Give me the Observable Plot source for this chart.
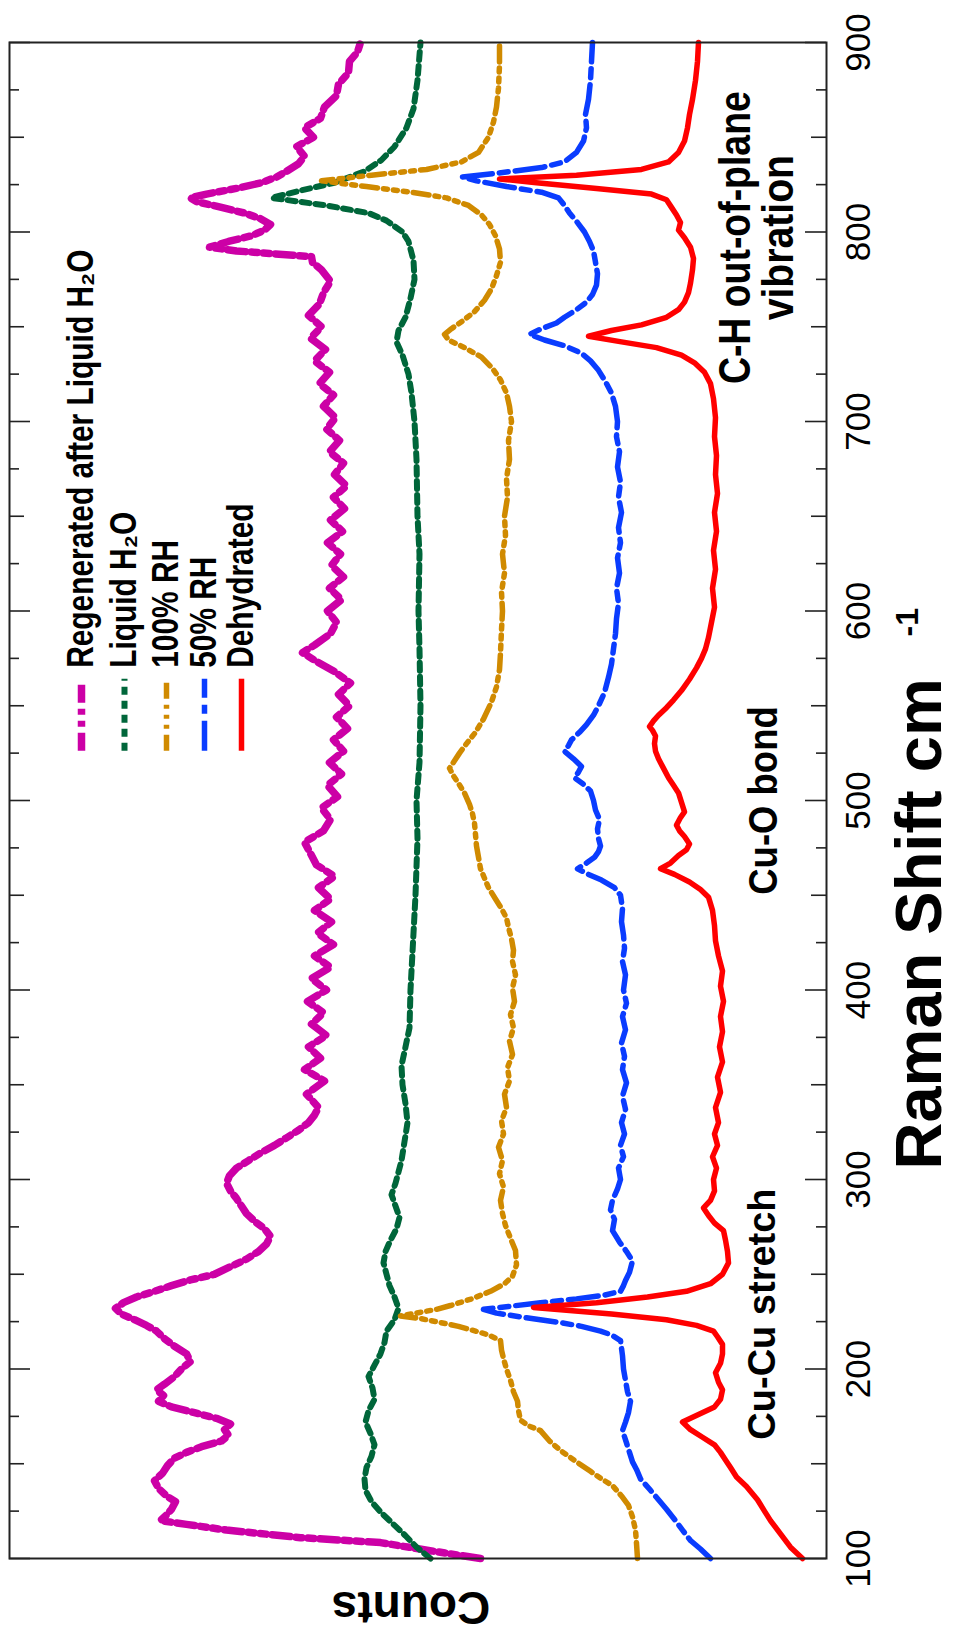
<!DOCTYPE html>
<html><head><meta charset="utf-8">
<script src="https://cdn.jsdelivr.net/npm/d3@7"></script>
<script src="https://cdn.jsdelivr.net/npm/@observablehq/plot@0.6"></script>
<style>body{margin:0;background:#fff}#chart{position:absolute;left:0;top:0}</style>
</head><body><div id="chart"></div>
<script>
// ---------- data (Raman shift in cm-1, counts in arbitrary units, stacked offsets) ----------
const seriesNames = ["Regenerated after Liquid H\u2082O", "Liquid H\u2082O", "100% RH", "50% RH", "Dehydrated"];
const seriesColors = ["#cc00a6", "#00663a", "#d08a00", "#0a3cff", "#ff0000"];

const ramanRegen = [100,104,108.4,111,115,118,120,123,126,130,133,137,141,145,149,153,156,159,162,165,168,171,174,177,180,183,186,189,192,196,200,204,208,212,216,220,223,226,229,232,235,238,241,244,247,250,254,258,262,266,270,274,278,282,286,290,294,298,302,306,310,314,318,322,326,330,334,338,
345,352,358,364,370,376,382,388,394,400,406,412,418,424,430,436,442,448,454,460,466,472,478,484,490,496,502,508,514,520,526,532,538,544,550,556,562,568,574,578,582,588,594,600,606,612,618,624,630,636,642,648,654,660,666,672,678,684,690,696,702,708,714,720,726,732,738,744,750,756,762,768,774,780,784,
787,790,792,795,798,801,804,807,810,813,816,818,820,823,826,829,832,836,840,845,850,855,860,866,872,878,884,890,895,900];
const countsRegen = [346,395,446,526,600,640,666,660,655,651,660,668,672,664,659,652,640,625,605,598,602,596,610,632,655,668,663,670,662,652,645,636,640,652,662,670,680,692,705,711,703,690,672,655,636,612,596,580,568,560,556,562,572,580,585,590,596,600,597,590,578,566,552,540,528,518,512,508,
520,502,522,506,518,500,515,503,519,500,515,496,512,493,509,495,512,496,508,492,510,516,522,503,496,505,489,499,485,497,483,493,479,490,477,488,476,492,512,524,512,496,490,499,485,497,483,495,486,499,484,496,482,493,480,492,483,497,487,500,491,503,493,507,497,512,501,516,505,518,507,503,496,505,514,
515,590,617,598,575,562,556,566,582,605,630,636,620,590,565,550,540,528,522,530,513,522,506,502,490,488,478,477,469,466];

const ramanLiquid = [100,106,112,118,124,130,136,142,148,154,160,166,172,178,184,190,196,202,208,214,220,226,232,238,244,250,256,262,268,274,280,286,292,298,304,310,320,330,340,350,360,370,380,400,420,450,480,500,520,550,580,600,630,650,680,700,715,725,735,742,748,755,765,775,785,795,800,806,810,814,818,822,826,832,838,845,855,865,880,900];
const countsLiquid = [396,410,421,433,445,455,461,462,460,455,452,456,461,458,452,454,458,452,446,442,440,432,428,432,437,440,443,441,436,430,427,431,435,431,428,425,422,419,421,424,425,421,417,416,414,411,409,410,407,406,407,408,407,409,410,412,415,418,424,430,428,421,416,412,413,418,424,440,458,500,555,525,492,462,445,432,420,413,409,406];

const ramanRH100 = [100,108,115,122,128,133,138.5,142,146,151,157,162,167.5,170,173,178,183,188,194,200,205.5,210,215,218,220,222.5,224.5,226.5,228,230,231.5,233.5,237,241,245,249,255,262.5,269,275.7,282,289,296,303,310,317,324,331,338,345,352,359,366,373,380,387,394,401,408,415,421,427,433,438,443,448,454,459,464,470,476,482,488,493,498,504,509,513,517,521,525,530,536,543,552,560,569,578,590,600,610,620,630,640,650,660,670,680,690,700,708,715,722,728,734,739,743,746,749,753,758,764,770,777,784,791,798,804,809,814,818,821,824,827,830,833,837,842,850,858,866,876,888,900];
const countsRH100 = [189,190,191,194,198,205,214,225,236,250,266,277,286,298,306,308,309,313,316,320,323,325,326,338,351,368,386,405,426,405,390,376,355,336,322,314,310,311,316,321,324,326,323,327,324,328,323,325,320,322,317,319,314,317,313,316,312,314,311,314,313,315,318,320,325,331,338,342,346,348,350,351,352,354,357,362,368,373,377,372,367,360,351,343,335,330,327,326,325,324,325,322,324,321,322,319,320,317,318,315,317,320,326,334,345,362,378,382,375,364,352,342,335,330,326,327,331,337,345,358,380,415,460,505,455,400,365,348,338,333,330,328,327,327];

const ramanRH50 = [100,105,109.5,115,120,126,131,136,142,147,151,156,161,167.5,172,177,183,188,194,200,207,211,215,218,220,222.5,224.5,227,229.5,231.5,233,235,237,239,241,244,246.7,251,257,262,267,273,279,284,289,295,300,306,312,318,324,330,337,344,351,358,365,372,379,386,393,400,408,415,422,429,436,443,450,454,458,461,464,467,470,473,476,480,485,490,495,500,505,509,512,515,518,522,526,529,532,536,540,545,550,557,565,572,580,588,596,604,612,620,628,636,644,652,660,668,676,684,692,700,708,715,721,727,732,736,740,743,746,749,752,755,759,763,767,772,778,784,790,795,800,805,810,814,818,821,824,827,829,831,834,837,842,848,855,862,870,880,890,900];
const countsRH50 = [116,126,136,144,151,160,168,176,186,190,194,197,200,204,201,198,196,199,201,203,204,205,206,215,226,245,266,300,330,343,318,286,250,222,206,203,201,197,194,200,207,214,212,216,214,209,206,208,203,206,202,205,201,204,200,204,202,205,201,204,200,203,201,204,202,203,205,204,206,212,225,238,249,240,232,228,226,228,229,227,231,233,236,244,252,248,245,253,262,258,255,247,240,233,228,222,218,215,213,211,210,208,210,207,209,206,208,205,208,206,209,207,210,209,211,215,221,228,236,245,262,282,297,285,270,262,250,240,234,230,229,231,233,237,242,249,257,262,268,285,320,350,364,330,285,262,250,243,240,241,238,236,235,234];

const ramanDehyd = [100,106,113,120,125,131,138,143,148,152,156,160,164,168,172,176,180,184,189,193,198,203,208,213,217,220,223,226,229,232.5,235,238,241,245,250,256,262,268,273,277,281,285,289,294,300,306,312,318,324,330,338,346,354,362,370,378,386,394,402,410,418,426,434,442,449,453,457,461,464,467,471,474,477,481,484,487,491,494,499,504,508,512,518,522,526,530,534,537,539,542,545,549,553,558,564,570,575,580,586,594,602,612,622,632,642,652,662,672,682,692,702,712,720,726,731,735,739,742,745,748,751,755,759,763,768,773,780,786,792,797,801,805,809,813,817,820,823,826,828,830,833,837,842,848,855,862,870,880,890,900];
const countsDehyd = [24,36,46,56,62,69,80,90,96,101,106,112,124,136,144,128,112,106,104,108,111,106,104,104,109,113,130,160,215,293,230,179,140,116,104,98,99,101,103,112,118,123,116,112,113,110,114,109,112,108,111,106,109,104,107,104,106,103,106,104,108,111,112,114,118,126,137,152,166,156,148,140,137,142,147,150,146,142,145,148,153,158,164,168,171,172,171,174,177,173,168,160,153,145,137,130,125,121,118,115,112,114,111,113,110,112,109,111,110,112,111,113,116,122,132,145,170,205,238,215,185,160,148,142,138,136,134,133,136,142,148,146,150,155,160,175,230,290,327,250,185,158,148,142,139,137,134,131,129,128];

const majorTicks = [100,200,300,400,500,600,700,800,900];
const mediumTicks = [150,250,350,450,550,650,750,850];
const minorTicks = [125,175,225,275,325,375,425,475,525,575,625,675,725,775,825,875];

const annotationLines = ["C-H out-of-plane", "vibration", "Cu-O bond", "Cu-Cu stretch"];

// ---------- build ----------
const ramanSets = [ramanRegen, ramanLiquid, ramanRH100, ramanRH50, ramanDehyd];
const countSets = [countsRegen, countsLiquid, countsRH100, countsRH50, countsDehyd];
const dashes = ["18,6,6,6,6,6", "8,6", "16,6,4,6,4,6,4,6", "30,7,9,7", null];
const widths = [7.5, 6, 5.5, 5.5, 5.5];
const legendC = [745, 702, 660, 622, 585];

const W = 955, H = 1636, mL = 9, mR = 129, mT = 42, mB = 78;
const frameW = W - mL - mR;
const sans = "'Liberation Sans',Arial,sans-serif";

const marks = [];
ramanSets.forEach((r, i) => {
  const rows = r.map((v, j) => ({raman: v, counts: countSets[i][j]}));
  marks.push(Plot.line(rows, {x: "counts", y: "raman", stroke: seriesColors[i], strokeWidth: widths[i],
    strokeDasharray: dashes[i] || undefined, strokeLinejoin: "round", curve: "linear"}));
  marks.push(Plot.ruleX([legendC[i]], {x: d => d, y1: 526, y2: 564, stroke: seriesColors[i], strokeWidth: widths[i],
    strokeDasharray: dashes[i] || undefined}));
  marks.push(Plot.text([seriesNames[i]], {x: legendC[i], y: 570, rotate: -90, textAnchor: "start", lineAnchor: "middle",
    fontSize: 36, fontWeight: "bold", fill: "#000", className: "cond83"}));
});

// ticks (inward, both sides)
[[majorTicks, 21], [mediumTicks, 15], [minorTicks, 10]].forEach(([t, len]) => {
  marks.push(Plot.ruleY(t, {y: d => d, insetLeft: frameW - len, stroke: "#222", strokeWidth: 1.6}));
  marks.push(Plot.ruleY(t, {y: d => d, insetRight: frameW - len, stroke: "#222", strokeWidth: 1.6}));
});
marks.push(Plot.frame({stroke: "#222", strokeWidth: 2}));

// tick labels
marks.push(Plot.text(majorTicks, {y: d => d, text: d => String(d), frameAnchor: "right", dx: 43, rotate: -90,
  textAnchor: "middle", lineAnchor: "bottom", fontSize: 35, fill: "#000"}));
// axis titles
marks.push(Plot.text(["Raman Shift cm"], {frameAnchor: "right", dx: 114, dy: 369, rotate: -90, textAnchor: "start",
  lineAnchor: "bottom", fontSize: 65, fontWeight: "bold", fill: "#000"}));
marks.push(Plot.text(["-1"], {frameAnchor: "right", dx: 91, dy: -164, rotate: -90, textAnchor: "start",
  lineAnchor: "bottom", fontSize: 32, fontWeight: "bold", fill: "#000"}));
marks.push(Plot.text(["Counts"], {frameAnchor: "bottom", dx: -7, dy: 48, rotate: 180, textAnchor: "middle",
  lineAnchor: "middle", fontSize: 46, fontWeight: "bold", fill: "#000"}));
// annotations
marks.push(Plot.text([annotationLines[0]], {x: 91, y: 797, rotate: -90, textAnchor: "middle", lineAnchor: "middle",
  fontSize: 44, fontWeight: "bold", fill: "#000", className: "cond85"}));
marks.push(Plot.text([annotationLines[1]], {x: 48, y: 797, rotate: -90, textAnchor: "middle", lineAnchor: "middle",
  fontSize: 44, fontWeight: "bold", fill: "#000", className: "cond89"}));
marks.push(Plot.text([annotationLines[2]], {x: 63, y: 500, rotate: -90, textAnchor: "middle", lineAnchor: "middle",
  fontSize: 41, fontWeight: "bold", fill: "#000", className: "cond89"}));
marks.push(Plot.text([annotationLines[3]], {x: 64, y: 229, rotate: -90, textAnchor: "middle", lineAnchor: "middle",
  fontSize: 38, fontWeight: "bold", fill: "#000"}));

const chart = Plot.plot({
  width: W, height: H, marginLeft: mL, marginRight: mR, marginTop: mT, marginBottom: mB,
  x: {domain: [0, frameW], reverse: true, axis: null},
  y: {domain: [100, 900], axis: null},
  style: {background: "#fff", fontFamily: sans},
  marks
});
document.getElementById("chart").appendChild(chart);
// condensed lettering as in the original (narrow bold face)
[["cond83", 0.83], ["cond85", 0.85], ["cond89", 0.89]].forEach(([cls, f]) => {
  d3.select(chart).selectAll("g." + cls + " text").each(function () {
    const L = this.getComputedTextLength();
    this.setAttribute("textLength", (L * f).toFixed(1));
    this.setAttribute("lengthAdjust", "spacingAndGlyphs");
  });
});
</script>
</body></html>
